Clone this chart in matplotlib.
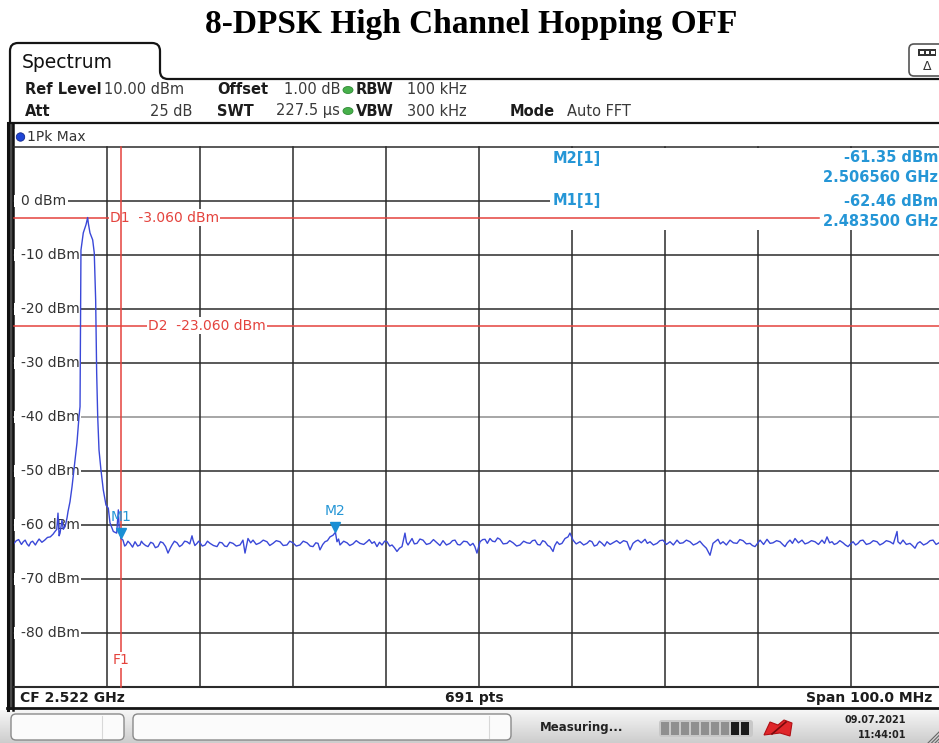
import numpy as np
import matplotlib.pyplot as plt
from matplotlib.patches import Rectangle, FancyBboxPatch, Ellipse, Circle, PathPatch, Polygon
from matplotlib.path import Path
from matplotlib.transforms import offset_copy
from matplotlib.colors import LinearSegmentedColormap

title = "8-DPSK High Channel Hopping OFF"

# analyzer settings
center_freq_ghz = 2.522
span_mhz = 100.0
n_points = 691
ref_level_dbm = 10.0
level_range_db = 100.0

# 1Pk Max trace, offsets from the start of the span (MHz) and levels (dBm)
# carrier region up to the band edge
carrier_offset_mhz = [
    0.00, 0.25, 0.50, 0.80, 1.00, 1.20, 1.40, 1.60, 1.80, 2.00,
    2.30, 2.50, 2.70, 3.00, 3.30, 3.60, 3.90, 4.20, 4.41, 4.60,
    4.73, 4.85, 4.95, 5.16, 5.30, 5.48, 5.60, 5.70, 5.81, 6.02,
    6.24, 6.56, 6.77, 6.99, 7.10, 7.20, 7.45, 7.74, 7.92, 7.99,
    8.17, 8.46, 8.63, 8.78, 8.89, 9.00, 9.14, 9.35, 9.60, 9.89,
    10.14, 10.32, 10.68, 11.04, 11.22, 11.32, 11.50,
]
carrier_level_dbm = [
    -63.4, -62.9, -62.7, -63.6, -63.1, -62.8, -63.5, -63.9, -63.2, -63.0,
    -63.7, -63.1, -62.6, -63.2, -62.8, -62.3, -62.2, -61.7, -61.2, -60.8,
    -57.8, -62.0, -61.5, -59.1, -60.8, -60.3, -59.5, -58.7, -57.5, -55.7,
    -52.9, -48.0, -44.8, -39.9, -38.1, -9.1, -5.9, -4.4, -3.06, -4.1,
    -5.9, -7.2, -9.6, -18.3, -31.9, -39.9, -46.1, -49.8, -53.5, -56.3,
    -56.9, -59.6, -61.2, -61.5, -57.2, -60.9, -62.46,
]

# noise floor above the band edge
floor_offset_mhz = [
    11.72, 11.90, 12.04, 12.25, 12.47, 12.75, 13.01, 13.30, 13.55, 13.70,
    13.87, 14.15, 14.41, 14.70, 14.95, 15.20, 15.48, 15.75, 16.02, 16.30,
    16.56, 16.80, 16.99, 17.25, 17.53, 17.80, 18.06, 18.35, 18.60, 18.90,
    19.14, 19.25, 19.45, 19.68, 19.85, 20.00, 20.25, 20.54, 20.80, 21.08,
    21.45, 21.83, 22.10, 22.37, 22.65, 22.90, 23.20, 23.55, 23.90, 24.30,
    24.62, 24.84, 25.16, 25.45, 25.70, 26.05, 26.45, 26.80, 27.20, 27.50,
    27.85, 28.20, 28.60, 28.95, 29.35, 29.65, 30.00, 30.35, 30.75, 31.10,
    31.51, 31.85, 32.15, 32.45, 32.69, 32.90, 33.20, 33.44, 33.70, 33.98,
    34.30, 34.56, 34.73, 34.90, 35.05, 35.45, 35.81, 36.10, 36.45, 36.80,
    37.20, 37.60, 37.96, 38.20, 38.49, 38.75, 39.03, 39.30, 39.57, 39.85,
    40.11, 40.40, 40.65, 40.90, 41.18, 41.45, 41.72, 42.04, 42.20, 42.37,
    42.80, 43.05, 43.33, 43.65, 43.98, 44.35, 44.73, 45.10, 45.48, 45.80,
    46.13, 46.50, 46.88, 47.15, 47.42, 47.70, 47.96, 48.35, 48.71, 49.05,
    49.35, 49.55, 49.78, 50.11, 50.40, 50.65, 50.90, 51.18, 51.45, 51.72,
    52.00, 52.26, 52.60, 53.01, 53.30, 53.66, 54.05, 54.41, 54.80, 55.16,
    55.48, 55.75, 56.02, 56.30, 56.56, 56.85, 57.10, 57.40, 57.63, 57.96,
    58.15, 58.39, 58.65, 58.92, 59.25, 59.57, 59.78, 60.11, 60.45, 60.86,
    61.25, 61.61, 61.90, 62.15, 62.40, 62.69, 62.95, 63.23, 63.50, 63.76,
    64.10, 64.41, 64.80, 65.16, 65.55, 65.91, 66.24, 66.56, 66.85, 67.10,
    67.45, 67.85, 68.10, 68.39, 68.75, 69.14, 69.45, 69.78, 70.15, 70.54,
    70.90, 71.29, 71.60, 71.94, 72.30, 72.69, 73.05, 73.44, 73.75, 74.09,
    74.45, 74.84, 75.16, 75.45, 75.70, 75.95, 76.24, 76.60, 76.99, 77.35,
    77.74, 78.05, 78.39, 78.75, 79.14, 79.40, 79.68, 79.95, 80.22, 80.60,
    80.97, 81.30, 81.61, 82.00, 82.37, 82.65, 82.90, 83.15, 83.44, 83.70,
    83.98, 84.35, 84.73, 85.05, 85.38, 85.75, 86.13, 86.50, 86.88, 87.15,
    87.42, 87.70, 87.96, 88.20, 88.49, 88.80, 89.14, 89.40, 89.68, 89.95,
    90.22, 90.50, 90.75, 91.00, 91.29, 91.65, 92.04, 92.40, 92.80, 93.10,
    93.44, 93.80, 94.19, 94.55, 94.95, 95.05, 95.30, 95.59, 95.95, 96.34,
    96.60, 96.88, 97.15, 97.42, 97.80, 98.17, 98.50, 98.82, 99.15, 99.46,
    100.00,
]
floor_level_dbm = [
    -62.8, -63.9, -63.7, -63.0, -63.4, -64.1, -63.1, -63.9, -63.7, -63.0,
    -63.4, -63.8, -64.0, -63.2, -63.4, -64.2, -64.0, -63.1, -63.3, -64.0,
    -65.2, -64.3, -63.7, -63.0, -63.3, -64.0, -63.7, -63.0, -63.1, -63.5,
    -62.0, -62.8, -63.8, -63.4, -63.0, -63.3, -63.9, -63.7, -63.0, -63.4,
    -63.8, -64.0, -63.2, -63.3, -63.9, -64.0, -63.2, -63.4, -63.9, -63.7,
    -62.8, -65.2, -62.5, -63.3, -62.8, -63.6, -63.3, -62.8, -63.1, -63.8,
    -63.4, -62.9, -63.1, -63.8, -63.7, -63.0, -63.3, -63.9, -63.7, -63.0,
    -63.3, -63.9, -64.0, -63.3, -63.4, -64.6, -63.6, -63.1, -62.9, -62.2,
    -61.9, -61.35, -63.1, -62.6, -63.7, -63.0, -63.3, -63.8, -63.5, -62.9,
    -63.4, -63.6, -63.1, -62.7, -63.4, -63.1, -64.0, -63.2, -63.7, -63.0,
    -63.1, -63.9, -63.7, -64.2, -64.9, -64.3, -64.0, -61.5, -63.2, -63.7,
    -62.5, -63.5, -63.4, -62.6, -62.8, -63.6, -63.4, -62.7, -63.3, -63.8,
    -62.9, -63.7, -63.4, -62.9, -62.8, -63.6, -63.7, -63.0, -63.1, -63.8,
    -63.4, -64.0, -65.2, -63.1, -62.7, -62.65, -63.4, -62.5, -63.0, -63.1,
    -62.4, -62.65, -63.5, -63.4, -62.9, -63.3, -63.9, -63.7, -63.0, -63.3,
    -63.4, -62.9, -62.8, -63.6, -63.7, -62.9, -63.1, -63.8, -64.0, -64.9,
    -63.8, -63.1, -63.6, -63.4, -62.5, -62.2, -61.5, -62.8, -63.5, -63.1,
    -63.7, -63.4, -62.9, -63.1, -63.9, -63.7, -63.0, -63.4, -63.9, -63.1,
    -63.6, -63.3, -62.9, -63.4, -62.9, -63.1, -64.6, -63.4, -63.0, -62.8,
    -63.3, -62.65, -63.4, -63.1, -63.7, -63.4, -62.9, -62.8, -63.6, -63.1,
    -63.7, -62.8, -63.4, -63.3, -62.8, -63.1, -63.7, -63.4, -63.0, -63.7,
    -64.3, -65.6, -63.4, -63.0, -62.65, -63.5, -63.1, -63.7, -62.8, -63.3,
    -63.4, -62.7, -62.9, -63.5, -63.4, -63.8, -64.0, -63.4, -62.8, -63.6,
    -62.65, -63.4, -63.3, -62.9, -63.1, -63.6, -64.0, -63.3, -62.8, -63.4,
    -62.5, -63.3, -62.8, -63.5, -63.3, -62.9, -63.1, -63.6, -62.8, -63.4,
    -62.2, -63.3, -63.1, -63.6, -63.4, -62.9, -63.3, -63.7, -64.0, -63.5,
    -63.1, -63.7, -63.4, -62.9, -62.8, -63.6, -63.4, -62.9, -63.1, -63.7,
    -63.4, -62.9, -63.1, -63.5, -61.2, -63.1, -63.5, -62.8, -63.6, -63.4,
    -63.8, -64.3, -63.4, -63.1, -63.7, -63.4, -62.9, -62.8, -63.6, -63.3,
    -63.0,
]

trace_offset_mhz = carrier_offset_mhz + floor_offset_mhz
trace_level_dbm = carrier_level_dbm + floor_level_dbm

level_ticks_dbm = [0, -10, -20, -30, -40, -50, -60, -70, -80]

display_line_names = ["D1", "D2"]
display_line_dbm = [-3.06, -23.06]

f1_freq_ghz = 2.4835

marker_names = ["M1", "M2"]
marker_freq_ghz = [2.4835, 2.50656]
marker_level_dbm = [-62.46, -61.35]

start_mhz = center_freq_ghz * 1000 - span_mhz / 2
marker_offset_mhz = [f * 1000 - start_mhz for f in marker_freq_ghz]
f1_offset_mhz = f1_freq_ghz * 1000 - start_mhz

W, H = 939, 743
red = '#e4433d'
trace_blue = '#3a48d8'
marker_blue = '#2596d6'
grid_c = '#2b2b2b'

fig = plt.figure(figsize=(W / 100, H / 100), dpi=100)
fig.patch.set_facecolor('white')


def pixel_axes(z):
    a = fig.add_axes([0, 0, 1, 1], zorder=z)
    a.set_xlim(0, W)
    a.set_ylim(H, 0)
    a.axis('off')
    return a


bg = pixel_axes(0)
top = pixel_axes(3)

# measurement diagram: 14..944 px wide, 147..687 px tall
ax = fig.add_axes([14 / W, (H - 687) / H, 930 / W, 540 / H], zorder=1)
ax.set_xlim(0, span_mhz)
ax.set_ylim(ref_level_dbm - level_range_db, ref_level_dbm)
ax.axis('off')

# grid
for lvl in range(10, -91, -10):
    c = '#8e8e8e' if lvl == -40 else grid_c
    ax.axhline(lvl, color=c, lw=1.5 if lvl == -90 else 1.1, zorder=1, clip_on=False)
for f in range(10, 101, 10):
    ax.axvline(f, color=grid_c, lw=1.1, zorder=2, clip_on=False)

for lvl in level_ticks_dbm:
    ax.add_patch(Rectangle((0, lvl - 1.2), 1.0, 2.4, fc='white', ec='none', zorder=2.1))
    ax.text(0.7, lvl, f"{lvl} dBm", ha='left', va='center', fontsize=10, color='#333333',
            zorder=2.2, bbox=dict(fc='white', ec='none', pad=1.5))

# marker readout area
ax.add_patch(Rectangle((57.6, -5.4), 50, 15.2, fc='white', ec='none', zorder=3))

# display lines
d_ends = [86.6, span_mhz]
d_label_x = [10.3, 14.4]
for name, lvl, x_end, x_lbl in zip(display_line_names, display_line_dbm, d_ends, d_label_x):
    ax.plot([0, x_end], [lvl, lvl], color=red, lw=1.1, zorder=3.5, clip_on=False)
    ax.text(x_lbl, lvl, f"{name}  {lvl:.3f} dBm", ha='left', va='center', fontsize=10,
            color=red, zorder=3.6, bbox=dict(fc='white', ec='none', pad=0.8))

# frequency line
ax.axvline(f1_offset_mhz, color=red, lw=1.1, zorder=4, clip_on=False)
ax.text(f1_offset_mhz, -85, "F1", ha='center', va='center', fontsize=10, color=red,
        zorder=4.5, bbox=dict(fc='white', ec='none', pad=0.8))

# trace
ax.plot(trace_offset_mhz, trace_level_dbm, color=trace_blue, lw=1.0, zorder=5)

# markers
tri = offset_copy(ax.transData, fig=fig, x=0, y=3.5, units='points')
ax.plot(marker_offset_mhz, marker_level_dbm, 'v', color='#1a8fd4', ms=7, transform=tri,
        zorder=6, clip_on=False)
for n, x, y in zip(marker_names, marker_offset_mhz, marker_level_dbm):
    ax.annotate(n, (x, y), xytext=(0, 15), textcoords='offset points', ha='center',
                va='center', color=marker_blue, fontsize=10, zorder=6)

# marker readout text
row_y = [158, 201]
for i, yy in zip([1, 0], row_y):
    top.text(553, yy, f"{marker_names[i]}[1]", ha='left', va='center', fontsize=10.5,
             fontweight='bold', color=marker_blue)
    top.text(938, yy, f"{marker_level_dbm[i]:.2f} dBm", ha='right', va='center',
             fontsize=10.5, fontweight='bold', color=marker_blue)
    top.text(938, yy + 20, f"{marker_freq_ghz[i]:.6f} GHz", ha='right', va='center',
             fontsize=10.5, fontweight='bold', color=marker_blue,
             bbox=dict(fc='white', ec='none', pad=0.5))

# title
bg.text(471, 25, title, ha='center', va='center', fontsize=24, fontweight='bold',
        family='Liberation Serif', color='black')

# tab outline and header box
M, L, C = Path.MOVETO, Path.LINETO, Path.CURVE3
verts = [(10, 123), (10, 51), (10, 43), (18, 43), (152, 43), (160, 43), (160, 51),
         (160, 71), (160, 79), (168, 79), (W, 79)]
codes = [M, L, C, C, L, C, C, L, C, C, L]
bg.add_patch(PathPatch(Path(verts, codes), fill=False, ec='#151515', lw=1.6))
bg.plot([10, W], [123, 123], color='#151515', lw=1.6)
bg.text(22, 62, "Spectrum", ha='left', va='center', fontsize=13.5, color='#111111')

# left frame
bg.add_patch(Rectangle((7, 123), 6.5, 587, fc='#4a4a4a', ec='none'))
bg.plot([8, 8], [123, 710], color='#111111', lw=2.2)
bg.plot([12.5, 12.5], [123, 710], color='#111111', lw=1.8)

# header parameters
hdr_bold = dict(fontsize=10.5, fontweight='bold', color='#1c1c1c', va='center')
hdr_val = dict(fontsize=10.5, color='#3a3a3a', va='center')
bg.text(25, 90, "Ref Level", **hdr_bold)
bg.text(104, 90, "10.00 dBm", **hdr_val)
bg.text(217, 90, "Offset", **hdr_bold)
bg.text(340, 90, "1.00 dB", ha='right', **hdr_val)
bg.text(356, 90, "RBW", **hdr_bold)
bg.text(407, 90, "100 kHz", **hdr_val)
bg.text(25, 111, "Att", **hdr_bold)
bg.text(192, 111, "25 dB", ha='right', **hdr_val)
bg.text(217, 111, "SWT", **hdr_bold)
bg.text(340, 111, "227.5 µs", ha='right', **hdr_val)
bg.text(356, 111, "VBW", **hdr_bold)
bg.text(407, 111, "300 kHz", **hdr_val)
bg.text(510, 111, "Mode", **hdr_bold)
bg.text(567, 111, "Auto FFT", **hdr_val)
for yy in (90, 111):
    bg.add_patch(Ellipse((348, yy), 10, 7, fc='#47b04b', ec='#2f8a35', lw=0.6))

# top-right icon
bg.add_patch(FancyBboxPatch((909, 44), 40, 32, boxstyle='round,pad=0,rounding_size=5',
                            fc='white', ec='#555555', lw=1.2))
bg.add_patch(Rectangle((918, 49), 18, 7, fc='#333333', ec='none'))
for xx in (920, 925.5, 931):
    bg.add_patch(Rectangle((xx, 51), 3.5, 3, fc='white', ec='none'))
bg.text(927, 67, "Δ", ha='center', va='center', fontsize=9, color='#333333')

# trace label row
bg.add_patch(Circle((20.5, 137), 4.2, fc='#1f45d6', ec='#10278a', lw=0.6))
bg.text(27, 137, "1Pk Max", ha='left', va='center', fontsize=10, color='#333333')

# bottom info bar
bg.plot([7, W], [708, 708], color='#151515', lw=2)
bar = dict(fontsize=10, fontweight='bold', color='#1c1c1c', va='center')
bg.text(20, 698, "CF 2.522 GHz", ha='left', **bar)
bg.text(474, 698, f"{n_points} pts", ha='center', **bar)
bg.text(932, 698, f"Span {span_mhz:.1f} MHz", ha='right', **bar)

# status bar
grad = LinearSegmentedColormap.from_list('status', ['#f6f6f6', '#cdcdcd'])
bg.imshow(np.linspace(0, 1, 32).reshape(-1, 1), cmap=grad, aspect='auto',
          extent=(0, W, H, 710), zorder=0)
bg.set_xlim(0, W)
bg.set_ylim(H, 0)
for x0, w in ((11, 113), (133, 378)):
    bg.add_patch(FancyBboxPatch((x0, 714), w, 26, boxstyle='round,pad=0,rounding_size=5',
                                fc='#fbfbfb', ec='#8a8a8a', lw=1.0))
bg.plot([102, 102], [716, 738], color='#d8d8d8', lw=0.8)
bg.plot([489, 489], [716, 738], color='#d8d8d8', lw=0.8)
bg.text(540, 728, "Measuring...", ha='left', va='center', fontsize=8.5, fontweight='bold',
        color='#222222')
bg.add_patch(FancyBboxPatch((659, 720), 94, 17, boxstyle='round,pad=0,rounding_size=3',
                            fc='#c8c8c8', ec='none'))
for k in range(9):
    c = '#1a1a1a' if k >= 7 else '#8f8f8f'
    bg.add_patch(Rectangle((661 + k * 10, 722), 8, 13, fc=c, ec='none'))
bg.add_patch(Polygon([(764, 735), (770, 722), (778, 725), (784, 720), (792, 723), (790, 736),
                      (780, 733)], closed=True, fc='#e0262a', ec='#b01015', lw=0.8))
bg.plot([772, 786], [734, 722], color='#7a0a0c', lw=1.2)
bg.text(906, 720, "09.07.2021", ha='right', va='center', fontsize=7, fontweight='bold',
        color='#222222')
bg.text(906, 735, "11:44:01", ha='right', va='center', fontsize=7, fontweight='bold',
        color='#222222')
for k in range(4):
    bg.plot([928 + k * 3.5, 939], [743, 743 - (11 - k * 3.5)], color='#666666', lw=0.8)

fig.savefig('out.png', dpi=100, facecolor='white')
